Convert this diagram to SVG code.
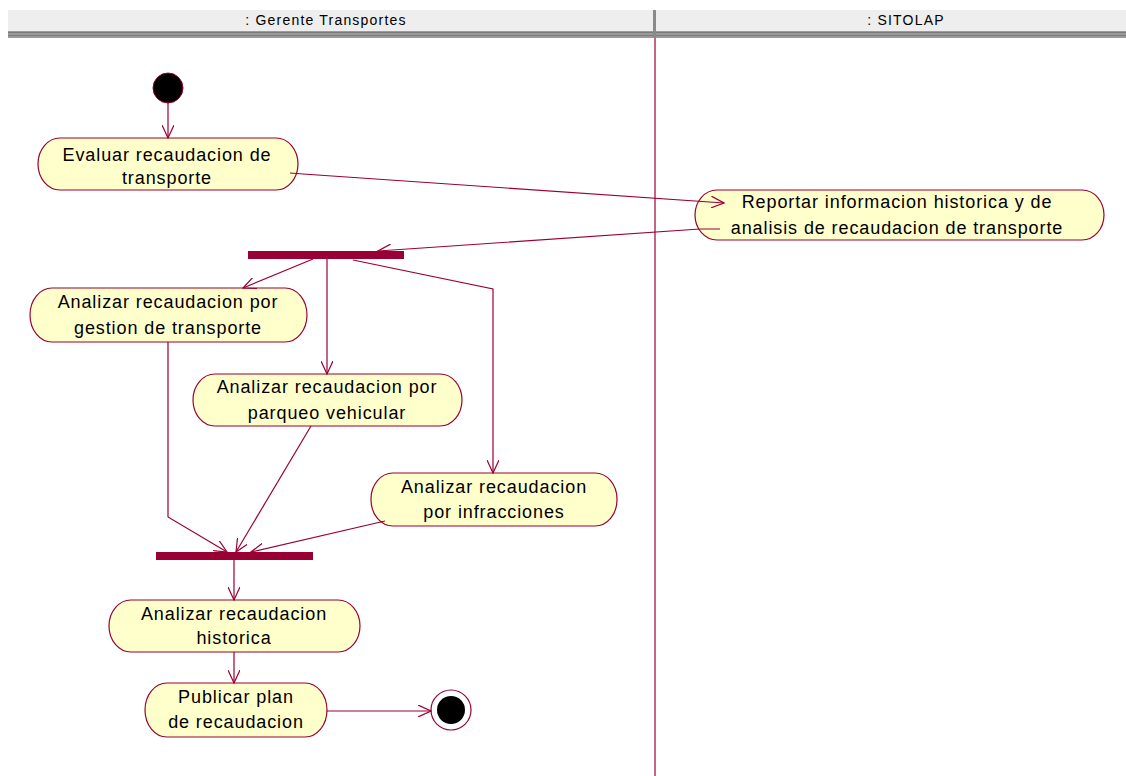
<svg xmlns="http://www.w3.org/2000/svg" width="1126" height="776" viewBox="0 0 1126 776">
  <style>
    .act { fill: #FFFFCC; stroke: #990033; stroke-width: 1.2; }
    .lbl { font-family: "Liberation Sans", Arial, sans-serif; font-size: 18px; letter-spacing: 0.9px; fill: #000; text-anchor: middle; }
    .hdr { font-family: "Liberation Sans", Arial, sans-serif; font-size: 14px; letter-spacing: 1.2px; fill: #000; text-anchor: middle; }
    .flow { fill: none; stroke: #990033; stroke-width: 1.2; }
    .bar { fill: #990033; }
  </style>
  <defs>
    <marker id="open" viewBox="0 0 14 12" refX="13" refY="6" markerWidth="14" markerHeight="12" markerUnits="userSpaceOnUse" orient="auto">
      <path d="M0,0 L13,6 L0,12" fill="none" stroke="#990033" stroke-width="1.2"/>
    </marker>
  </defs>
  <rect width="1126" height="776" fill="#FFFFFF"/>

  <!-- swimlane headers -->
  <g id="lanes">
    <rect x="8" y="10" width="1118" height="21" fill="#EEEEEE"/>
    <rect x="8" y="31" width="1118" height="7" fill="#9A9A9A"/>
    <line x1="8" y1="32.5" x2="1126" y2="32.5" stroke="#7A7A7A" stroke-width="1"/>
    <line x1="8" y1="35.5" x2="1126" y2="35.5" stroke="#7A7A7A" stroke-width="1"/>
    <rect x="653" y="10" width="3" height="28" fill="#8A8A8A"/>
    <text class="hdr" x="326" y="25">: Gerente Transportes</text>
    <text class="hdr" x="906" y="25">: SITOLAP</text>
    <line x1="655" y1="38" x2="655" y2="776" stroke="#990033" stroke-width="1.2"/>
  </g>

  <g id="start">
    <circle cx="168" cy="88" r="15" fill="#000" stroke="#990033" stroke-width="1"/>
  </g>

  <g id="evaluar">
    <rect class="act" x="38" y="138" width="260" height="52" rx="22" ry="26"/>
    <text class="lbl" x="167" y="161">Evaluar recaudacion de</text>
    <text class="lbl" x="167" y="184">transporte</text>
  </g>

  <g id="reportar">
    <rect class="act" x="695" y="190" width="409" height="50" rx="22" ry="25"/>
    <text class="lbl" x="897" y="208">Reportar informacion historica y de</text>
    <text class="lbl" x="897" y="234">analisis de recaudacion de transporte</text>
  </g>

  <g id="fork">
    <rect class="bar" x="248" y="251" width="156" height="8"/>
  </g>

  <g id="gestion">
    <rect class="act" x="30" y="288" width="277" height="54" rx="22" ry="27"/>
    <text class="lbl" x="168" y="308">Analizar recaudacion por</text>
    <text class="lbl" x="168" y="334">gestion de transporte</text>
  </g>

  <g id="parqueo">
    <rect class="act" x="193" y="374" width="269" height="52" rx="22" ry="26"/>
    <text class="lbl" x="327" y="393">Analizar recaudacion por</text>
    <text class="lbl" x="327" y="419">parqueo vehicular</text>
  </g>

  <g id="infracciones">
    <rect class="act" x="371" y="473" width="246" height="53" rx="22" ry="26"/>
    <text class="lbl" x="494" y="493">Analizar recaudacion</text>
    <text class="lbl" x="494" y="518">por infracciones</text>
  </g>

  <g id="join">
    <rect class="bar" x="156" y="552" width="157" height="8"/>
  </g>

  <g id="historica">
    <rect class="act" x="109" y="600" width="251" height="52" rx="22" ry="26"/>
    <text class="lbl" x="234" y="620">Analizar recaudacion</text>
    <text class="lbl" x="234" y="644">historica</text>
  </g>

  <g id="publicar">
    <rect class="act" x="145" y="683" width="182" height="54" rx="22" ry="27"/>
    <text class="lbl" x="236" y="703">Publicar plan</text>
    <text class="lbl" x="236" y="728">de recaudacion</text>
  </g>

  <g id="end">
    <circle cx="451" cy="710" r="20" fill="#FFFFFF" stroke="#990033" stroke-width="1.2"/>
    <circle cx="451" cy="710" r="14" fill="#000"/>
  </g>

  <!-- control flows, drawn over the activities -->
  <g id="connectors">
    <line class="flow" x1="168" y1="103" x2="168" y2="138" marker-end="url(#open)"/>
    <polyline class="flow" points="290,173 303,174 724,203" marker-end="url(#open)"/>
    <polyline class="flow" points="720,229 700,229 378,251" marker-end="url(#open)"/>
    <line class="flow" x1="313" y1="259" x2="243" y2="288" marker-end="url(#open)"/>
    <line class="flow" x1="327" y1="259" x2="327" y2="374" marker-end="url(#open)"/>
    <polyline class="flow" points="353,260 493,289 493,473" marker-end="url(#open)"/>
    <polyline class="flow" points="168,342 168,517 227,552" marker-end="url(#open)"/>
    <line class="flow" x1="311" y1="426" x2="236" y2="552" marker-end="url(#open)"/>
    <line class="flow" x1="385" y1="521" x2="251" y2="552" marker-end="url(#open)"/>
    <line class="flow" x1="234" y1="560" x2="234" y2="600" marker-end="url(#open)"/>
    <line class="flow" x1="234" y1="652" x2="234" y2="683" marker-end="url(#open)"/>
    <line class="flow" x1="327" y1="711" x2="431" y2="711" marker-end="url(#open)"/>
  </g>
</svg>
